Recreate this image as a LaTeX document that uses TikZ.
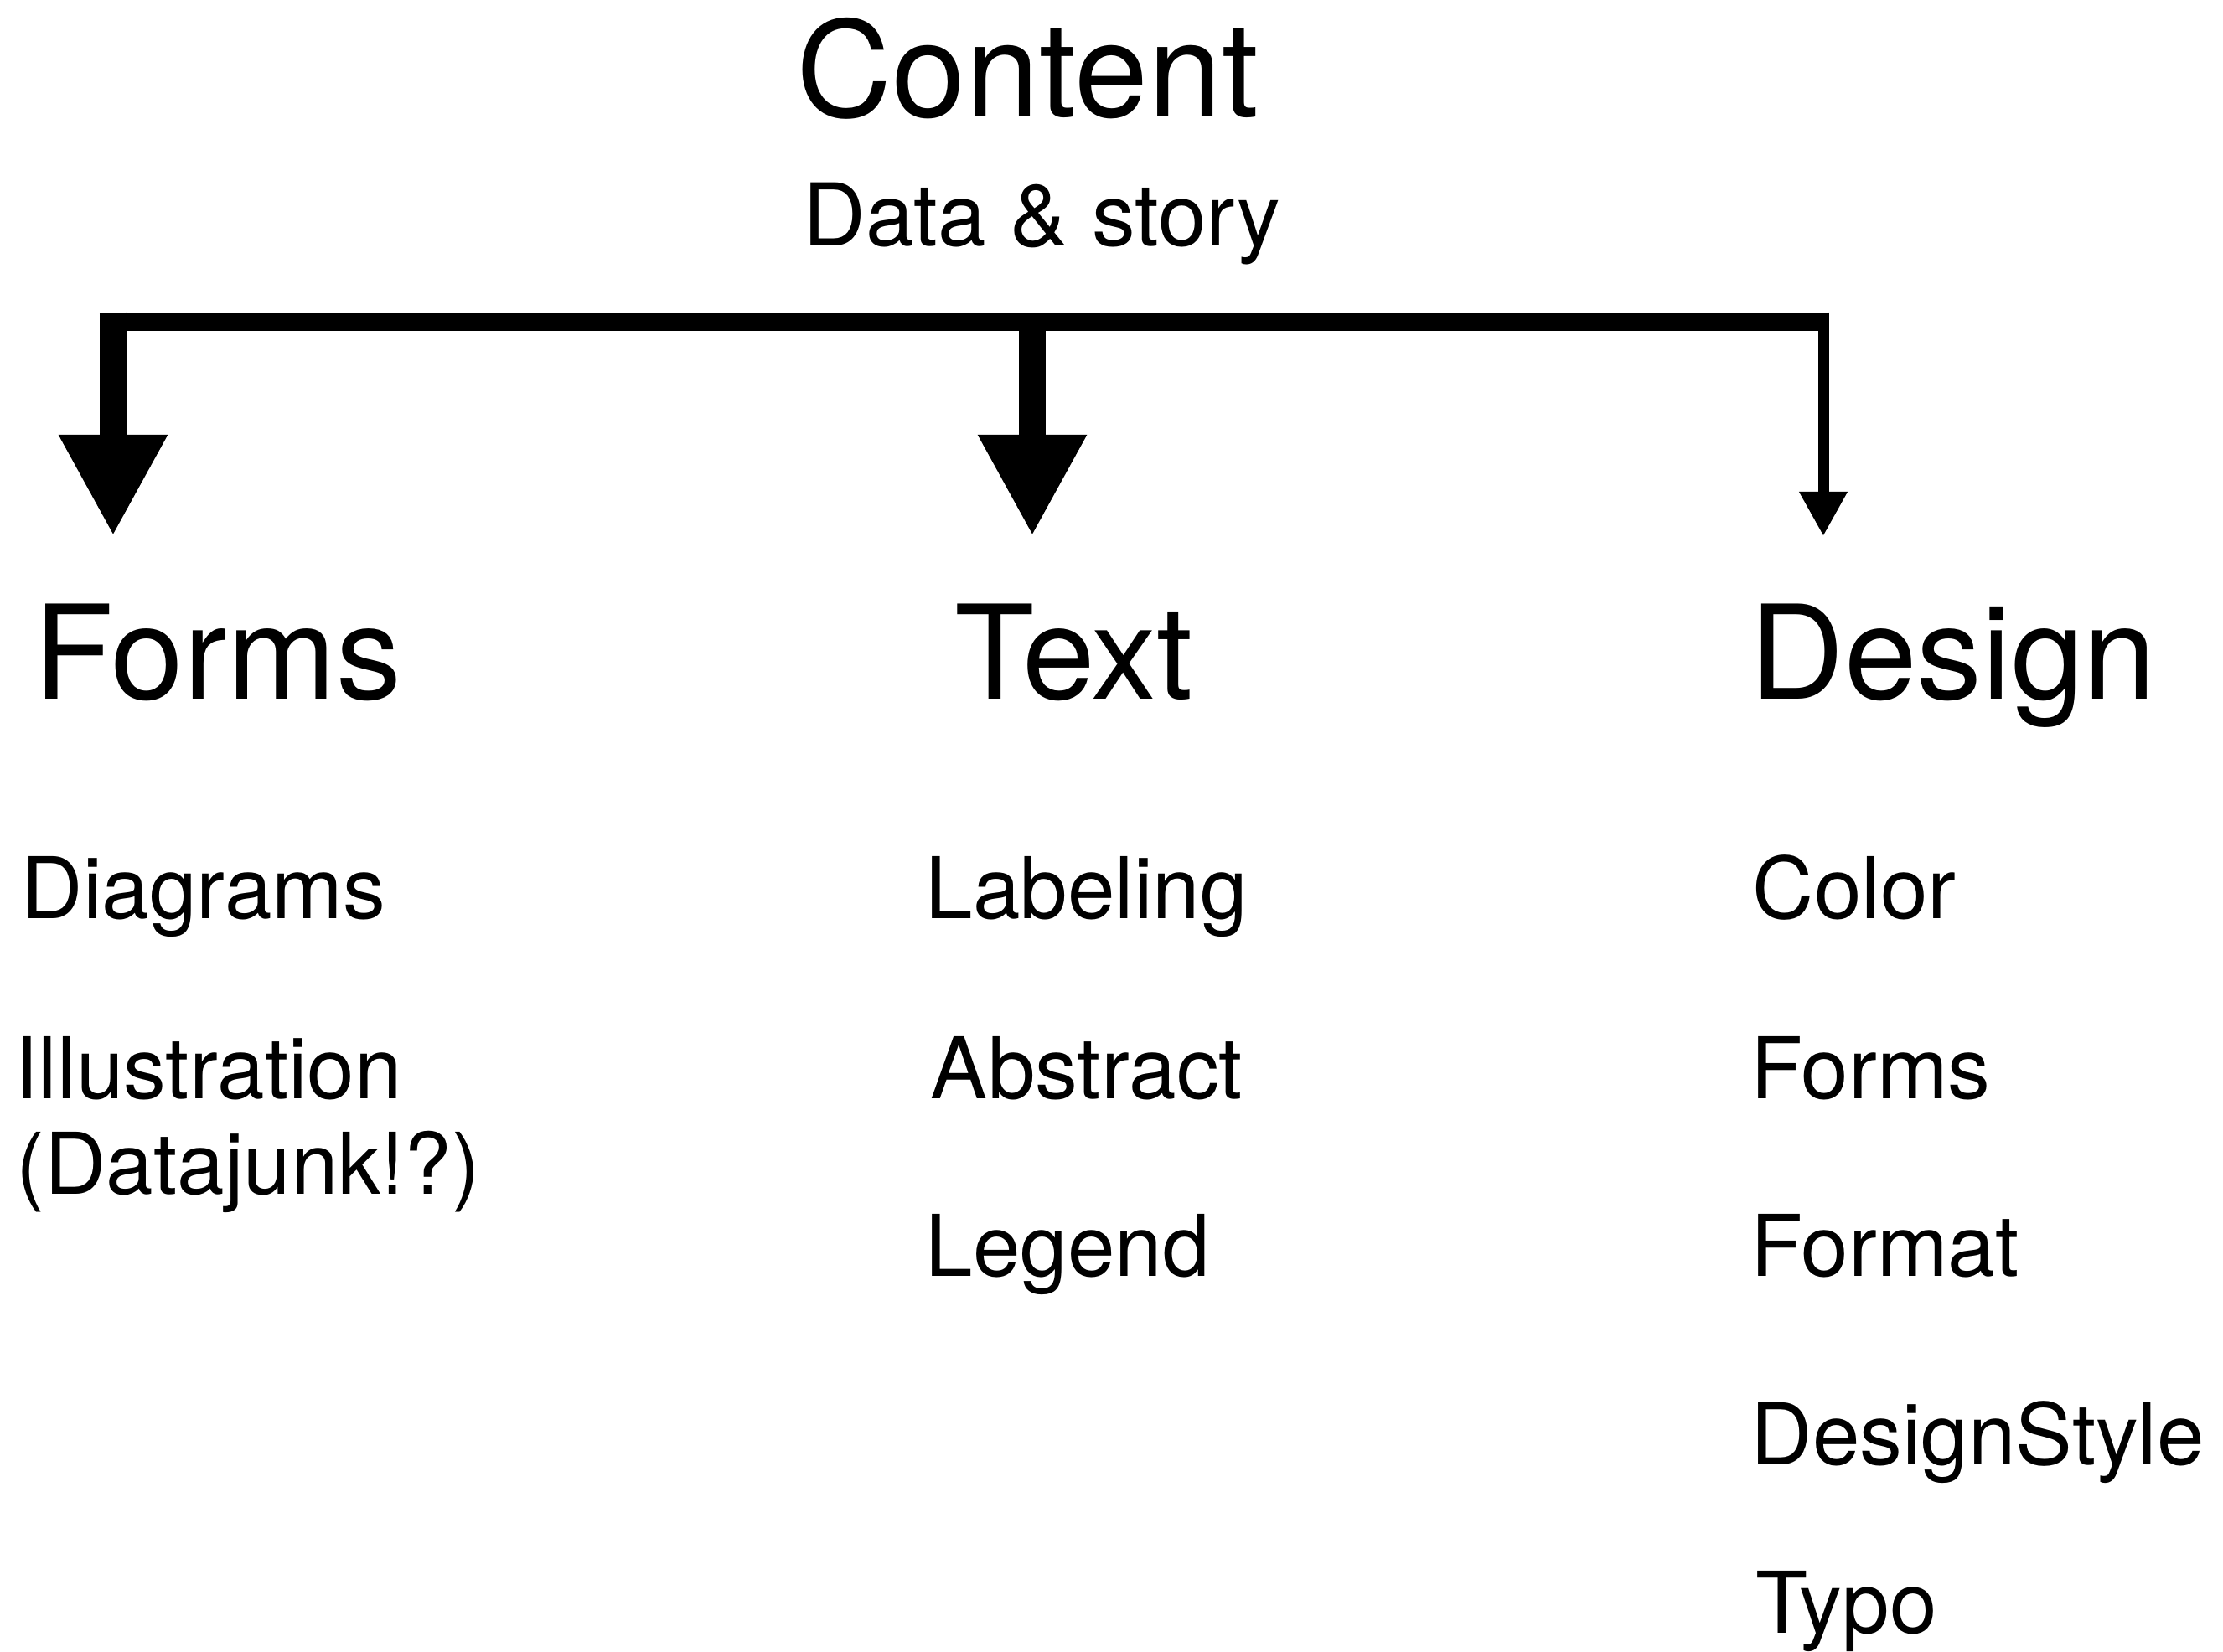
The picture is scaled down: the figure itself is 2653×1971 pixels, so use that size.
\documentclass[tikz,border=0pt]{standalone}
\usepackage{fontspec}
\setmainfont{TeX Gyre Heros}
\usetikzlibrary{arrows.meta, positioning}

\begin{document}
\begin{tikzpicture}[
    x=0.01cm, y=-0.01cm,
    title/.style={anchor=base west, inner sep=0pt, font=\fontsize{45}{48}\selectfont},
    head/.style={anchor=base west, inner sep=0pt, font=\fontsize{44.3}{48}\selectfont},
    entry/.style={anchor=base west, inner sep=0pt, align=left, font=\fontsize{28.9}{32.4}\selectfont},
    bar/.style={line width=0.21cm},
    fat/.style={line width=0.32cm, -{Triangle[width=1.21cm, length=1.21cm]}},
    thin/.style={line width=0.13cm, -{Triangle[width=0.54cm, length=0.53cm]}}
]
\useasboundingbox (0,0) rectangle (2653,1971);

\node[title] (content) at (950,139) {Content};
\node[entry, font=\fontsize{29.4}{32.4}\selectfont] (story) at (958,293) {Data \& story};

\node[head] (forms) at (40,834) {Forms};
\node[head] (text) at (1139,834) {Text};
\node[head] (design) at (2088,834) {Design};

\node[entry] (diagrams) at (25,1096) {Diagrams};
\node[entry] (illu) at (17,1311) {Illustration};
\node[entry] (junk) at (19,1425) {(Datajunk!?)};

\node[entry] (labeling) at (1104,1096) {Labeling};
\node[entry] (abstract) at (1110,1311) {Abstract};
\node[entry] (legend) at (1104,1523) {Legend};

\node[entry] (color) at (2091,1096) {Color};
\node[entry] (dforms) at (2089,1311) {Forms};
\node[entry] (format) at (2089,1523) {Format};
\node[entry] (dstyle) at (2089,1748) {DesignStyle};
\node[entry] (typo) at (2095,1949) {Typo};

% fork under the title
\coordinate (jl) at (135,384);
\coordinate (jm) at (1232,384);
\coordinate (jr) at (2176,384);
\coordinate (tipF) at (135,640);
\coordinate (tipT) at (1232,640);
\coordinate (tipD) at (2176,640);

\draw[bar] ([xshift=-0.16cm]jl) -- ([xshift=0.06cm]jr);
\draw[fat] ([yshift=0.105cm]jl) -- (tipF);
\draw[fat] (jm) -- (tipT);
\draw[thin] ([yshift=0.105cm]jr) -- (tipD);
\end{tikzpicture}
\end{document}
